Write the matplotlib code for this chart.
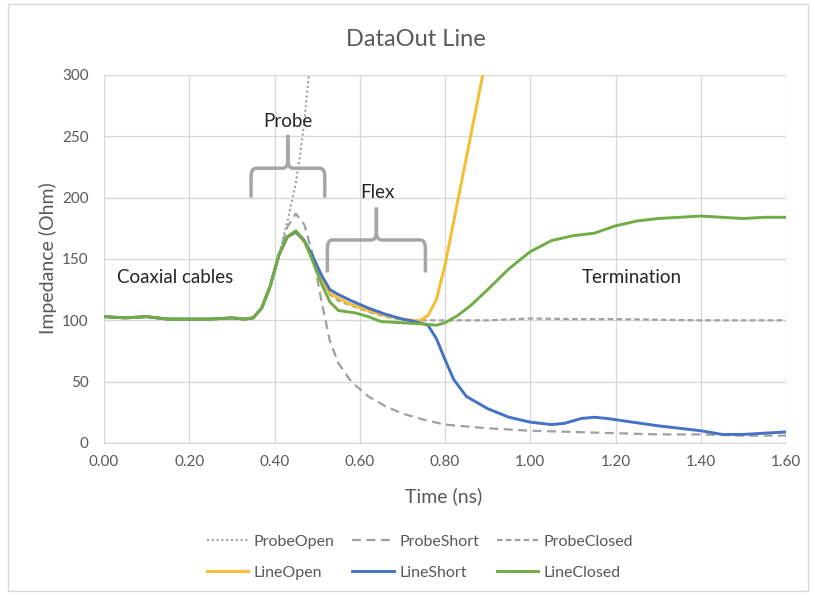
import matplotlib
matplotlib.use("Agg")
import matplotlib.pyplot as plt
from matplotlib.path import Path
from matplotlib.patches import PathPatch, Rectangle

plt.rcParams['font.family'] = ['Lato', 'DejaVu Sans']

# --- dados ---
t_base = [0.00, 0.05, 0.10, 0.15, 0.20, 0.25, 0.30, 0.33, 0.35, 0.37, 0.39, 0.41]
z_base = [103, 102, 103, 101, 101, 101, 102, 101, 102, 110, 128, 153]

t_closed = t_base + [0.43, 0.45, 0.47, 0.49, 0.51, 0.53, 0.55, 0.57, 0.59, 0.62, 0.65, 0.70,
                     0.75, 0.78, 0.80, 0.83, 0.86, 0.90, 0.95, 1.00, 1.05, 1.10, 1.15, 1.20,
                     1.25, 1.30, 1.35, 1.40, 1.45, 1.50, 1.55, 1.60]
z_closed = z_base + [168, 173, 165, 148, 130, 115, 108, 107, 106, 103, 99, 98,
                     97, 96, 98, 104, 112, 125, 142, 156, 165, 169, 171, 177,
                     181, 183, 184, 185, 184, 183, 184, 184]

t_short = t_base + [0.43, 0.45, 0.47, 0.49, 0.51, 0.53, 0.55, 0.58, 0.62, 0.66, 0.70, 0.73,
                    0.76, 0.78, 0.80, 0.82, 0.85, 0.90, 0.95, 1.00, 1.05, 1.08, 1.12, 1.15,
                    1.18, 1.22, 1.30, 1.35, 1.40, 1.45, 1.50, 1.55, 1.60]
z_short = z_base + [168, 172, 165, 152, 137, 125, 121, 116, 110, 105, 101, 99,
                    96, 85, 68, 52, 38, 28, 21, 17, 15, 16, 20, 21,
                    20, 18, 14, 12, 10, 7, 7, 8, 9]

t_open = t_base + [0.43, 0.45, 0.47, 0.49, 0.51, 0.53, 0.55, 0.58, 0.62, 0.66, 0.70, 0.74,
                   0.76, 0.78, 0.80, 0.82, 0.84, 0.86, 0.88, 0.90]
z_open = z_base + [168, 172, 164, 150, 134, 122, 118, 113, 108, 104, 101, 99.5,
                   104, 117, 145, 180, 215, 250, 285, 320]

t_pshort = t_base + [0.43, 0.45, 0.47, 0.49, 0.51, 0.53, 0.55, 0.58, 0.62, 0.66, 0.70, 0.75,
                     0.80, 0.90, 1.00, 1.10, 1.20, 1.30, 1.40, 1.50, 1.60]
z_pshort = z_base + [176, 187, 178, 153, 116, 83, 65, 50, 38, 30, 24, 19,
                     15, 12, 10, 9, 8, 7, 7, 6, 6]

t_popen = t_base + [0.43, 0.45, 0.46, 0.47, 0.48, 0.49, 0.50]
z_popen = z_base + [180, 212, 235, 262, 298, 340, 390]

t_pclosed = t_base + [0.43, 0.45, 0.47, 0.49, 0.51, 0.53, 0.55, 0.58, 0.62, 0.66, 0.70, 0.72,
                      0.76, 0.80, 0.90, 1.00, 1.10, 1.20, 1.30, 1.40, 1.50, 1.60]
z_pclosed = z_base + [168, 173, 165, 150, 133, 121, 116, 112, 107, 103, 100.5, 100,
                      100, 100, 100, 101.5, 101, 101, 100.5, 100, 100, 100]

x_ticks = [0.0, 0.2, 0.4, 0.6, 0.8, 1.0, 1.2, 1.4, 1.6]
y_ticks = [0, 50, 100, 150, 200, 250, 300]

cinza_texto = '#595959'
cinza_grade = '#d9d9d9'
cinza_probe = '#a0a0a0'

fig = plt.figure(figsize=(8.15, 5.95), dpi=100)
ax = fig.add_axes([104 / 815, 1 - 443 / 595, (786 - 104) / 815, (443 - 75) / 595])

# moldura do grafico
fig.patches.append(Rectangle((8 / 815, 4 / 595), 800 / 815, 587 / 595, transform=fig.transFigure,
                             fill=False, edgecolor=cinza_grade, linewidth=1))

ax.plot(t_popen, z_popen, color=cinza_probe, linestyle=(0, (1, 1.3)), linewidth=1.5, label='ProbeOpen')
ax.plot(t_pshort, z_pshort, color=cinza_probe, linestyle=(0, (4, 2.5)), linewidth=1.6, label='ProbeShort')
ax.plot(t_pclosed, z_pclosed, color=cinza_probe, linestyle=(0, (2.5, 1.5)), linewidth=1.6, label='ProbeClosed')
ax.plot(t_open, z_open, color='#f5bd2f', linewidth=2.1, label='LineOpen')
ax.plot(t_short, z_short, color='#4472c4', linewidth=2.1, label='LineShort')
ax.plot(t_closed, z_closed, color='#70ad47', linewidth=2.1, label='LineClosed')

ax.set_xlim(0, 1.6)
ax.set_ylim(0, 300)
ax.set_xticks(x_ticks)
ax.set_xticklabels([f'{v:.2f}' for v in x_ticks])
ax.set_yticks(y_ticks)
ax.grid(True, color=cinza_grade, linewidth=1)
ax.set_axisbelow(True)
for lado in ['top', 'right', 'left']:
    ax.spines[lado].set_visible(False)
ax.spines['bottom'].set_color(cinza_grade)
ax.tick_params(length=0, labelsize=11, colors=cinza_texto)
ax.tick_params(axis='x', pad=9)
ax.tick_params(axis='y', pad=11)

fig.text(444 / 815, 1 - 496 / 595, 'Time (ns)', ha='center', va='center', fontsize=14, color=cinza_texto)
fig.text(48 / 815, 1 - 258 / 595, 'Impedance (Ohm)', ha='center', va='center', rotation=90,
         fontsize=14, color=cinza_texto)
fig.text(0.51, 1 - 40 / 595, 'DataOut Line', ha='center', va='center', fontsize=17, color=cinza_texto)


# chaves (colchetes) das regioes
def chave(x0, x1, y, y_ponta, y_topo, rx=0.012, ry=7):
    xm = (x0 + x1) / 2
    for xa, sinal in [(x0, 1), (x1, -1)]:
        verts = [(xa, y_ponta), (xa, y - ry), (xa, y), (xa + sinal * rx, y),
                 (xm - sinal * rx, y), (xm, y), (xm, y + ry), (xm, y_topo)]
        codes = [Path.MOVETO, Path.LINETO, Path.CURVE3, Path.CURVE3,
                 Path.LINETO, Path.CURVE3, Path.CURVE3, Path.LINETO]
        ax.add_patch(PathPatch(Path(verts, codes), fill=False, edgecolor='#a6a6a6',
                               linewidth=2.5, capstyle='butt', joinstyle='round'))


chave(0.345, 0.518, 224, 200, 251)
chave(0.524, 0.754, 165.5, 139, 192)

ax.text(0.432, 262, 'Probe', ha='center', va='center', fontsize=13.5, color='#262626')
ax.text(0.642, 204, 'Flex', ha='center', va='center', fontsize=13.5, color='#262626')
ax.text(0.167, 135, 'Coaxial cables', ha='center', va='center', fontsize=13.5, color='#262626')
ax.text(1.238, 135, 'Termination', ha='center', va='center', fontsize=13.5, color='#262626')

h, l = ax.get_legend_handles_labels()
ordem = [0, 3, 1, 4, 2, 5]
fig.legend([h[i] for i in ordem], [l[i] for i in ordem], ncol=3, loc='center',
           bbox_to_anchor=(420 / 815, 1 - 557 / 595), frameon=False, fontsize=11.5,
           labelcolor=cinza_texto, handlelength=2.6, handletextpad=0.35, columnspacing=1.1,
           labelspacing=1.05)

fig.savefig('out.png', dpi=100)
